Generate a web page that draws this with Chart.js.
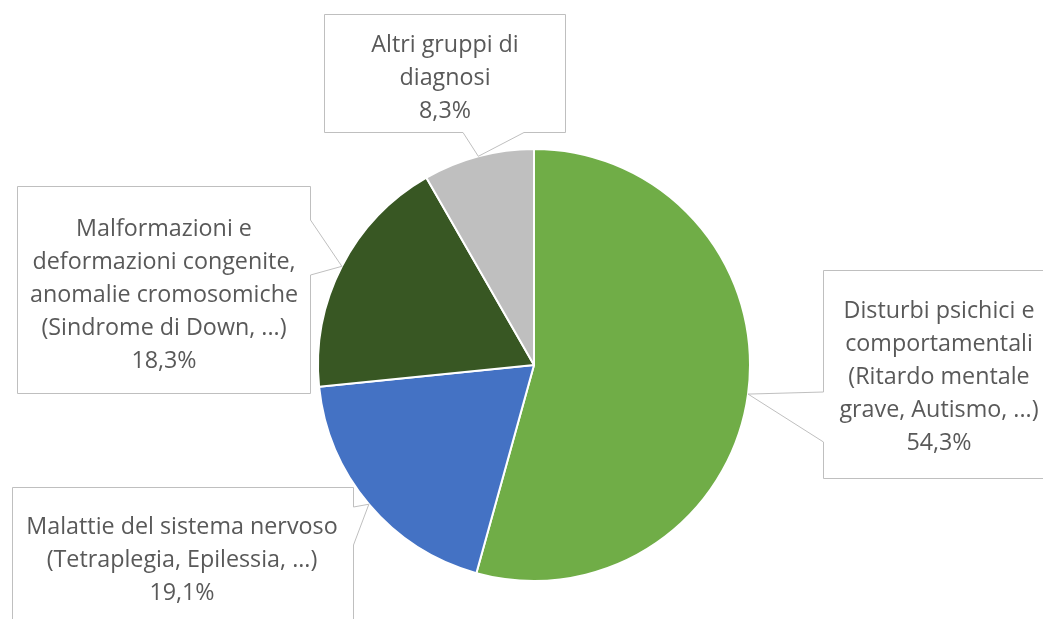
<!DOCTYPE html>
<html>
<head>
<meta charset="utf-8">
<script src="https://cdn.jsdelivr.net/npm/chart.js@4"></script>
<style>
  html, body { margin: 0; padding: 0; background: #fff; }
  #wrap { width: 1043px; height: 619px; position: relative; }
</style>
</head>
<body>
<div id="wrap"><canvas id="pieChart"></canvas></div>
<script>
// data
const categories = [
    'Disturbi psichici e\ncomportamentali\n(Ritardo mentale\ngrave, Autismo, ...)',
    'Malattie del sistema nervoso\n(Tetraplegia, Epilessia, ...)',
    'Malformazioni e\ndeformazioni congenite,\nanomalie cromosomiche\n(Sindrome di Down, ...)',
    'Altri gruppi di\ndiagnosi'
];
const values = [54.3, 19.1, 18.3, 8.3];
const colors = ['#70ad47', '#4472c4', '#385723', '#bfbfbf'];

// callout boxes (layout only): rect + the edge the pointer leaves from
const boxes = [
    { x: 823, y: 270, w: 240, h: 208, cx: 939, ty: 311, edge: 'left', a: 392, b: 442 },
    { x: 12, y: 487, w: 341, h: 160, cx: 182, ty: 527, edge: 'right', a: 507, b: 545 },
    { x: 17, y: 186, w: 293, h: 207, cx: 164, ty: 229, edge: 'right', a: 220, b: 275 },
    { x: 324, y: 14, w: 241, h: 118, cx: 445, ty: 45, edge: 'bottom', a: 463, b: 524 }
];

const calloutPlugin = {
    id: 'callouts',
    afterDraw(chart) {
        const ctx = chart.ctx;
        const arcs = chart.getDatasetMeta(0).data;
        ctx.save();
        arcs.forEach(function (arc, i) {
            const bx = boxes[i];
            const mid = (arc.startAngle + arc.endAngle) / 2;
            const tx = arc.x + Math.cos(mid) * arc.outerRadius;
            const ty = arc.y + Math.sin(mid) * arc.outerRadius;
            const L = bx.x + 0.5, T = bx.y + 0.5, R = bx.x + bx.w + 0.5, B = bx.y + bx.h + 0.5;

            ctx.beginPath();
            ctx.moveTo(L, T);
            if (bx.edge === 'left') {
                ctx.lineTo(R, T); ctx.lineTo(R, B); ctx.lineTo(L, B);
                ctx.lineTo(L, bx.b); ctx.lineTo(tx, ty); ctx.lineTo(L, bx.a);
            } else if (bx.edge === 'right') {
                ctx.lineTo(R, T); ctx.lineTo(R, bx.a); ctx.lineTo(tx, ty); ctx.lineTo(R, bx.b);
                ctx.lineTo(R, B); ctx.lineTo(L, B);
            } else {
                ctx.lineTo(R, T); ctx.lineTo(R, B); ctx.lineTo(bx.b, B); ctx.lineTo(tx, ty);
                ctx.lineTo(bx.a, B); ctx.lineTo(L, B);
            }
            ctx.closePath();
            ctx.fillStyle = '#ffffff';
            ctx.fill();
            ctx.strokeStyle = '#bfbfbf';
            ctx.lineWidth = 1;
            ctx.stroke();

            const lines = categories[i].split('\n');
            lines.push(values[i].toFixed(1).replace('.', ',') + '%');
            ctx.fillStyle = '#595959';
            ctx.font = '23.3px "Open Sans", sans-serif';
            ctx.textAlign = 'center';
            ctx.textBaseline = 'middle';
            lines.forEach(function (line, j) {
                ctx.fillText(line, bx.cx, bx.ty + j * 33);
            });
        });
        ctx.restore();
    }
};

var ctx = document.getElementById('pieChart').getContext('2d');
var chart = new Chart(ctx, {
    type: 'pie',
    data: {
        labels: categories,
        datasets: [{
            data: values,
            backgroundColor: colors,
            borderColor: '#ffffff',
            borderWidth: 2
        }]
    },
    options: {
        responsive: true,
        maintainAspectRatio: false,
        animation: false,
        layout: { padding: { left: 317, right: 292, top: 148, bottom: 37 } },
        plugins: {
            legend: { display: false },
            tooltip: { enabled: false }
        }
    },
    plugins: [calloutPlugin]
});
</script>
</body>
</html>
